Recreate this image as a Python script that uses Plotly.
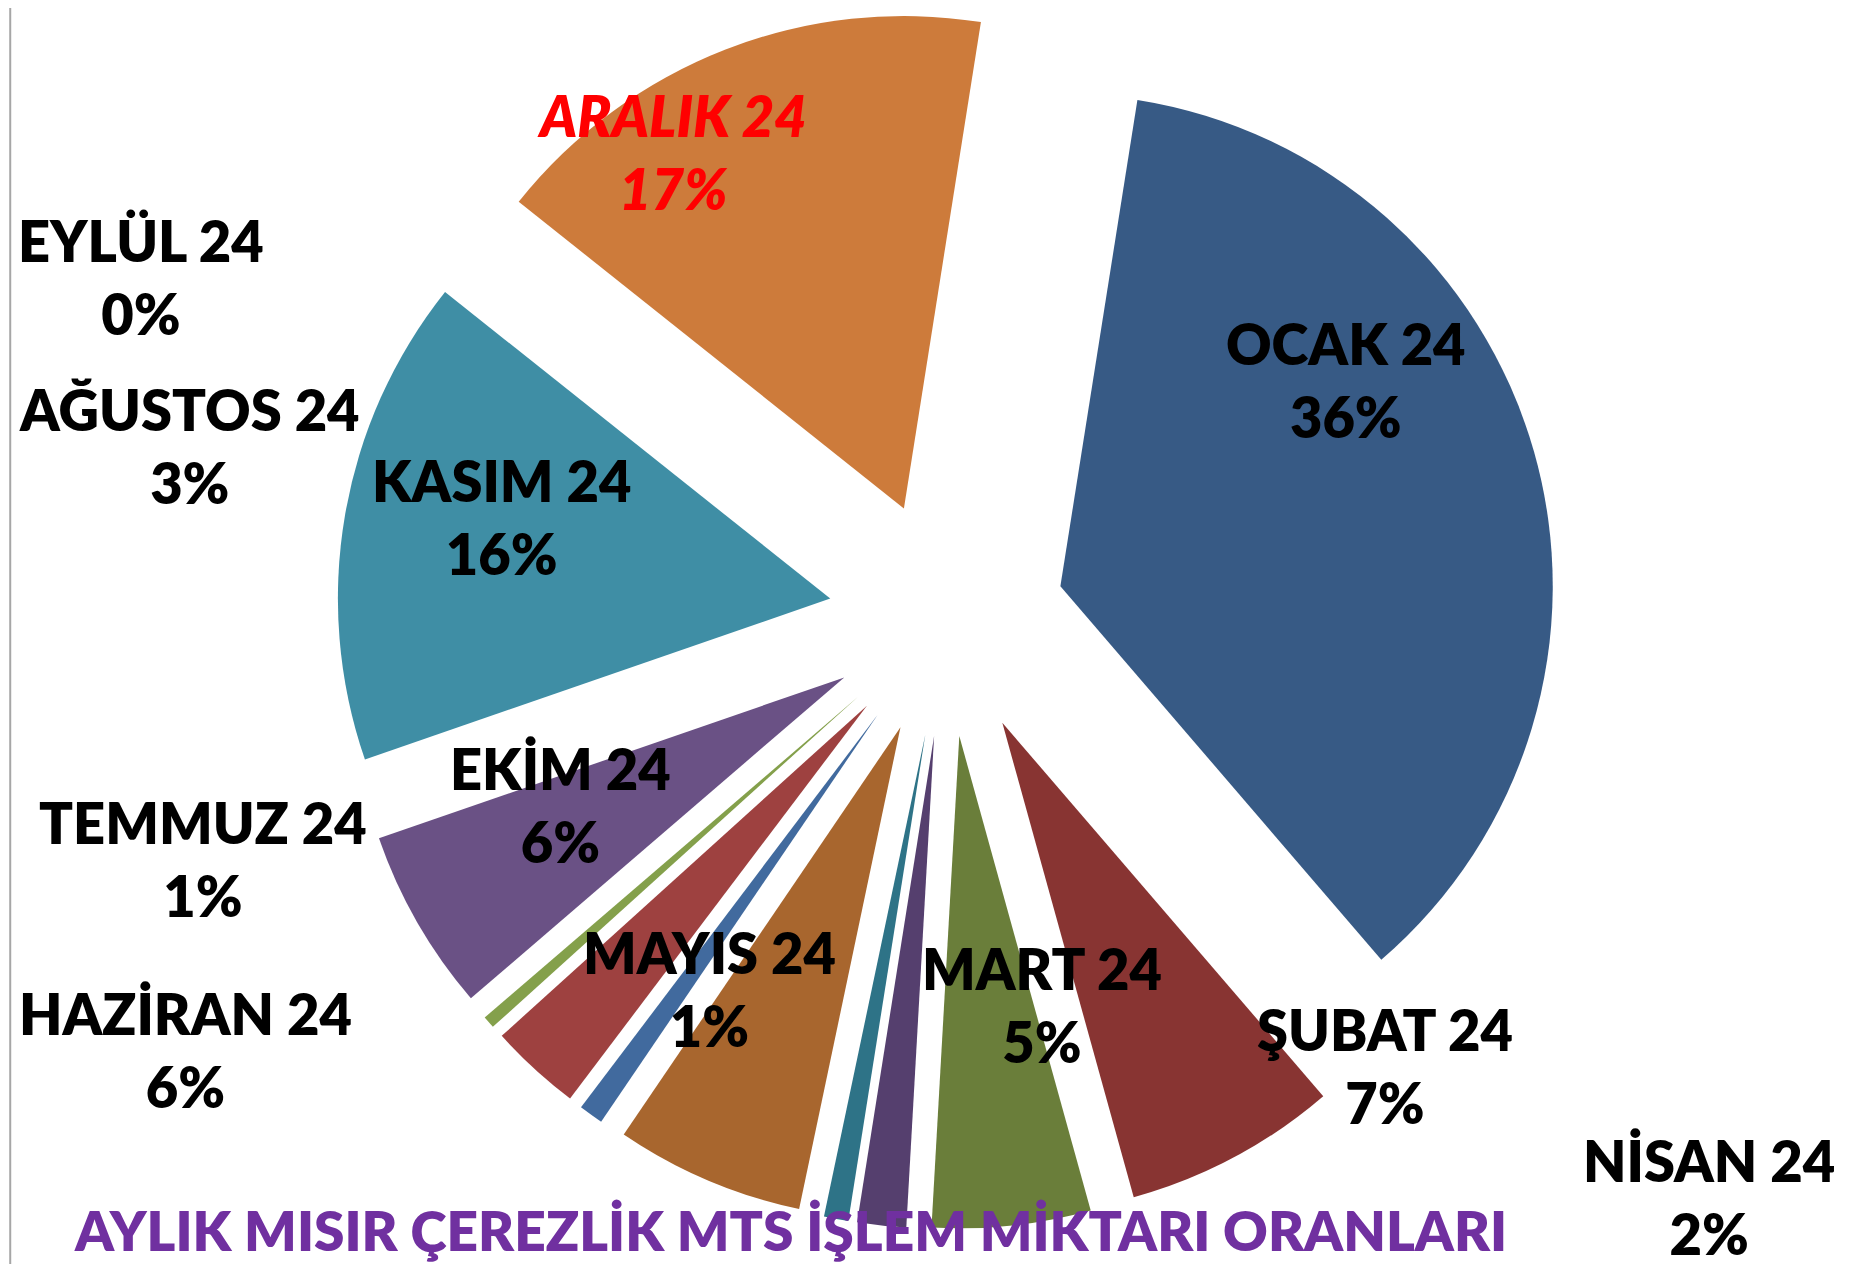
import plotly.graph_objects as go

months = ["OCAK 24", "ŞUBAT 24", "MART 24", "NİSAN 24", "MAYIS 24", "HAZİRAN 24",
          "TEMMUZ 24", "AĞUSTOS 24", "EYLÜL 24", "EKİM 24", "KASIM 24", "ARALIK 24"]
shares = [36.2, 7.0, 5.2, 1.6, 0.8, 6.2, 0.8, 3.0, 0.4, 6.0, 16.0, 16.8]
colors = ["#375A85", "#883432", "#6A7E3A", "#553F6E", "#2E7387", "#A8662E",
          "#416A9E", "#9E4140", "#84A04B", "#6A5185", "#3F8EA5", "#CD7B3B"]
title_text = "AYLIK MISIR ÇEREZLİK MTS İŞLEM MİKTARI ORANLARI"

# label anchor positions (paper coords) for each month's data label
label_x = [0.7205, 0.7415, 0.5568, 0.9160, 0.3775, 0.0958, 0.1050, 0.0980, 0.0716, 0.2973, 0.2660, 0.3576]
label_y = [0.7060, 0.1632, 0.2115, 0.0590, 0.2242, 0.1759, 0.3270, 0.6538, 0.7875, 0.3697, 0.5976, 0.8863]

W, H = 1857, 1264
fig = go.Figure()
fig.add_trace(go.Pie(
    labels=months, values=shares, sort=False, direction="clockwise", rotation=9,
    marker=dict(colors=colors, line=dict(width=0)),
    pull=[0.24] * len(months), textinfo="none", hoverinfo="skip",
    domain=dict(x=[0.155, 0.856], y=[0.034, 1.0]), showlegend=False,
))

total = sum(shares)
for i, (m, v) in enumerate(zip(months, shares)):
    pct = round(v / total * 100)
    is_dec = m.startswith("ARALIK")
    fig.add_annotation(
        x=label_x[i], y=label_y[i], xref="paper", yref="paper",
        text=(f"<i>{m}<br>{pct}%</i>" if is_dec else f"{m}<br>{pct}%"),
        showarrow=False, xanchor="center", yanchor="middle",
        font=dict(family="Lato", size=56, color="#FF0000" if is_dec else "#000000", weight=800),
    )

fig.add_annotation(
    x=0.4216, y=0.033, xref="paper", yref="paper", text=title_text, showarrow=False,
    xanchor="center", yanchor="middle",
    font=dict(family="Lato", size=55, color="#7030A0", weight=800),
)

fig.add_shape(type="line", xref="paper", yref="paper", x0=0.0012, x1=0.0012, y0=0, y1=1,
              line=dict(color="#A6A6A6", width=2))

fig.update_layout(
    width=W, height=H, margin=dict(l=0, r=0, t=0, b=0),
    paper_bgcolor="white", plot_bgcolor="white",
)
fig.write_html("out.html")
